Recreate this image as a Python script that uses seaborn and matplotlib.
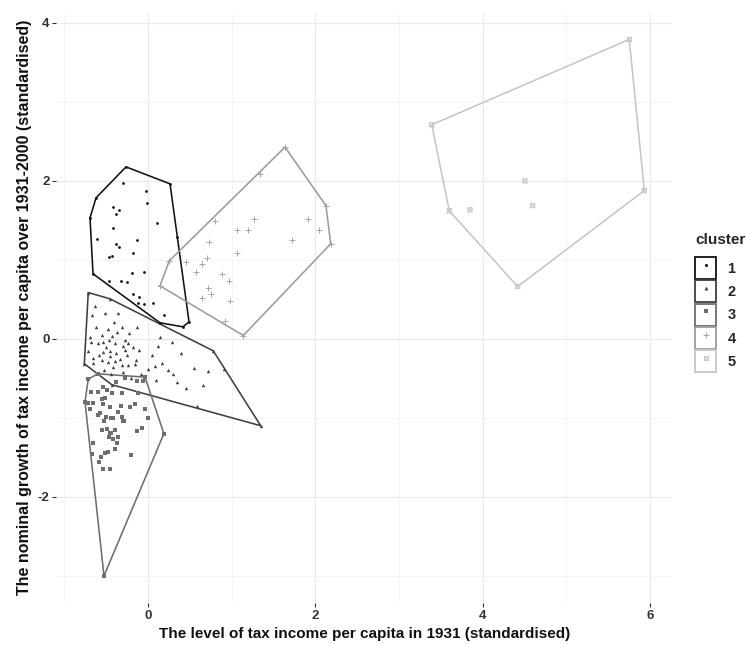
import numpy as np
import pandas as pd
import matplotlib
matplotlib.use("Agg")
import matplotlib.pyplot as plt
import seaborn as sns
from matplotlib.path import Path
from matplotlib.patches import Rectangle
from matplotlib.lines import Line2D
from matplotlib.legend_handler import HandlerTuple

# ---- data: standardised tax income level (x) and growth (y), by cluster ----
cluster_labels = ["1", "2", "3", "4", "5"]

c1_x = [-0.263, -0.621, -0.693, -0.657, 0.143, 0.418, 0.490, 0.263,
        -0.302, -0.027, -0.016, -0.418, -0.346, -0.382, 0.108, -0.418, -0.613,
        -0.135, -0.382, -0.346, -0.183, -0.430, -0.466, -0.048, -0.195, -0.466,
        -0.326, -0.254, -0.179, -0.108, -0.119, -0.048, 0.056, 0.191, 0.343]
c1_y = [2.177, 1.785, 1.532, 0.823, 0.203, 0.152, 0.215, 1.962,
        1.971, 1.873, 1.722, 1.671, 1.633, 1.582, 1.468, 1.405, 1.266,
        1.253, 1.203, 1.165, 1.092, 1.051, 1.038, 0.852, 0.839, 0.738,
        0.738, 0.725, 0.570, 0.535, 0.456, 0.443, 0.459, 0.304, 1.291]

c2_x = [-0.714, -0.454, 0.780, 1.346, -0.434, -0.761,
        -0.633, -0.514, -0.355, -0.673, -0.406, -0.314, -0.128, -0.374, -0.434, -0.223,
        -0.693, -0.685, -0.534, -0.462, -0.295, -0.235, -0.104, -0.713, -0.534, -0.454,
        -0.275, -0.654, -0.553, -0.474, -0.394, -0.314, -0.235, -0.661, -0.143, -0.415,
        0.143, 0.283, 0.123, 0.391, 0.084, 0.164, 0.243, 0.295, 0.550, 0.720,
        0.908, 0.654, 0.582, -0.004,
        -0.60, -0.58, -0.50, -0.45, -0.40, -0.38, -0.33, -0.28, -0.25, -0.18,
        -0.62, -0.55, -0.48, -0.52, -0.44, -0.30, -0.15, -0.08, 0.05, 0.35,
        0.45, 0.10, -0.20]
c2_y = [0.586, 0.506, -0.152, -1.100, -0.580, -0.316,
        0.418, 0.325, 0.325, 0.304, 0.219, 0.156, 0.148, 0.092, 0.038, 0.072,
        0.022, -0.034, -0.034, -0.013, -0.097, -0.054, -0.139, -0.148, -0.161, -0.148,
        -0.139, -0.244, -0.266, -0.287, -0.275, -0.329, -0.329, -0.308, -0.266, -0.358,
        0.022, -0.042, -0.085, -0.181, -0.342, -0.308, -0.392, -0.447, -0.371, -0.401,
        -0.384, -0.586, -0.848, -0.380,
        -0.05, -0.20, -0.10, -0.22, -0.05, -0.18, -0.25, -0.02, -0.20, -0.10,
        0.15, 0.05, 0.12, -0.40, -0.45, -0.42, -0.32, -0.45, -0.20, -0.55,
        -0.62, -0.52, -0.50]

c3_x = [-0.600, -0.036, 0.190, -0.526, -0.753, -0.714,
        -0.135, -0.063, -0.275, -0.382, -0.534, -0.493, -0.681, -0.594, -0.427, -0.307,
        -0.116, -0.514, -0.553, -0.713, -0.654, -0.534, -0.323, -0.215, -0.155, -0.693,
        -0.454, -0.362, -0.573, -0.594, -0.505, -0.442, -0.415, -0.314, -0.036, -0.522,
        -0.283, -0.135, -0.075, -0.553, -0.493, -0.442, -0.394, -0.466, -0.355, -0.654,
        -0.673, -0.514, -0.474, -0.562, -0.582, -0.207, -0.541, -0.454, -0.394, -0.374,
        -0.415, -0.454, 0.004, -0.295]
c3_y = [-0.443, -0.485, -1.200, -3.000, -0.797, -0.510,
        -0.528, -0.528, -0.497, -0.541, -0.604, -0.646, -0.667, -0.667, -0.680, -0.680,
        -0.687, -0.751, -0.763, -0.806, -0.806, -0.823, -0.848, -0.865, -0.823, -0.890,
        -0.865, -0.920, -0.933, -0.962, -0.984, -1.004, -1.004, -0.984, -0.890, -1.038,
        -1.038, -1.161, -1.130, -1.152, -1.143, -1.186, -1.152, -1.244, -1.244, -1.313,
        -1.456, -1.447, -1.427, -1.497, -1.557, -1.472, -1.649, -1.649, -1.392, -1.320,
        -1.270, -1.194, -1.004, -1.038]

c4_x = [0.143, 0.254, 1.637, 2.127, 2.183, 1.139,
        1.338, 0.800, 1.266, 1.067, 1.195, 1.912, 2.043, 1.724, 0.729, 1.060,
        0.708, 0.450, 0.642, 0.573, 0.884, 0.968, 0.720, 0.749, 0.642, 0.980, 0.920]
c4_y = [0.671, 0.987, 2.427, 1.684, 1.203, 0.042,
        2.085, 1.490, 1.515, 1.380, 1.380, 1.523, 1.384, 1.257, 1.232, 1.092,
        1.022, 0.971, 0.946, 0.852, 0.823, 0.734, 0.642, 0.570, 0.513, 0.485, 0.224]

c5_x = [5.750, 5.930, 4.417, 3.600, 3.390, 4.504, 3.847, 4.596]
c5_y = [3.790, 1.877, 0.662, 1.620, 2.710, 2.000, 1.633, 1.687]

x_ticks = [0, 2, 4, 6]
y_ticks = [-2, 0, 2, 4]
x_title = "The level of tax income per capita in 1931 (standardised)"
y_title = "The nominal growth of tax income per capita over 1931-2000 (standardised)"

frames = []
for lab, xs, ys in zip(cluster_labels,
                       [c1_x, c2_x, c3_x, c4_x, c5_x],
                       [c1_y, c2_y, c3_y, c4_y, c5_y]):
    frames.append(pd.DataFrame({"x": xs, "y": ys, "cluster": lab}))
df = pd.concat(frames, ignore_index=True)


def convex_hull(pts):
    """Andrew's monotone chain; returns closed hull vertex array."""
    pts = sorted(set(map(tuple, pts)))
    if len(pts) < 3:
        return np.array(pts + pts[:1])

    def cross(o, a, b):
        return (a[0] - o[0]) * (b[1] - o[1]) - (a[1] - o[1]) * (b[0] - o[0])

    lower, upper = [], []
    for p in pts:
        while len(lower) >= 2 and cross(lower[-2], lower[-1], p) <= 0:
            lower.pop()
        lower.append(p)
    for p in reversed(pts):
        while len(upper) >= 2 and cross(upper[-2], upper[-1], p) <= 0:
            upper.pop()
        upper.append(p)
    hull = lower[:-1] + upper[:-1]
    hull.append(hull[0])
    return np.array(hull)


# square with a cross inside (ggplot shape 7)
box_x = Path([(-1, -1), (1, -1), (1, 1), (-1, 1), (-1, -1),
              (-1, -1), (1, 1), (-1, 1), (1, -1)],
             [Path.MOVETO, Path.LINETO, Path.LINETO, Path.LINETO, Path.CLOSEPOLY,
              Path.MOVETO, Path.LINETO, Path.MOVETO, Path.LINETO])

colors = ["#111111", "#3f3f3f", "#6e6e6e", "#9c9c9c", "#c6c6c6"]
style = {
    "1": dict(marker="o", s=4, linewidth=0),
    "2": dict(marker="^", s=6, linewidth=0),
    "3": dict(marker="s", s=5, linewidth=0),
    "4": dict(marker="+", s=22, linewidth=0.6),
    "5": dict(marker=box_x, s=10, linewidth=0.6, facecolor="none"),
}
legend_ms = {"1": 2.2, "2": 2.8, "3": 2.6, "4": 5.0, "5": 3.0}

sns.set_theme(style="white")
plt.rcParams["font.family"] = ["Liberation Sans", "DejaVu Sans"]
plt.rcParams["axes.unicode_minus"] = False

fig = plt.figure(figsize=(7.46, 6.45), dpi=100)
ax = fig.add_axes([0.0755, 0.0657, 0.8257, 0.9147])

for lab, col in zip(cluster_labels, colors):
    sub = df[df["cluster"] == lab]
    hull = convex_hull(sub[["x", "y"]].to_numpy())
    ax.plot(hull[:, 0], hull[:, 1], color=col, lw=1.15, zorder=2,
            solid_joinstyle="round")
    kw = dict(style[lab])
    if lab != "4":
        kw["edgecolor"] = col
    sns.scatterplot(data=sub, x="x", y="y", color=col, ax=ax, legend=False,
                    zorder=3, **kw)

# limits with 5% padding on each side
xr = df["x"].max() - df["x"].min()
yr = df["y"].max() - df["y"].min()
ax.set_xlim(df["x"].min() - 0.05 * xr, df["x"].max() + 0.05 * xr)
ax.set_ylim(df["y"].min() - 0.05 * yr, df["y"].max() + 0.05 * yr)

ax.set_xticks(x_ticks)
ax.set_yticks(y_ticks)
ax.set_xticks([t + 1 for t in x_ticks[:-1]] + [x_ticks[0] - 1], minor=True)
ax.set_yticks([t + 1 for t in y_ticks[:-1]] + [y_ticks[0] - 1], minor=True)
ax.grid(which="major", color="#ebebeb", lw=1.0)
ax.grid(which="minor", color="#f3f3f3", lw=0.6)
ax.set_axisbelow(True)
for sp in ax.spines.values():
    sp.set_visible(False)
ax.tick_params(which="major", length=3, width=0.8, color="#333333",
               labelsize=9.5, labelcolor="#333333", pad=2, bottom=True, left=True)
ax.tick_params(which="minor", length=0)
for t in ax.get_xticklabels() + ax.get_yticklabels():
    t.set_fontweight("bold")

ax.set_xlabel(x_title, fontsize=11, fontweight="bold", color="#111111", labelpad=4)
ax.set_ylabel(y_title, fontsize=11.5, fontweight="bold", color="#111111", labelpad=4)

handles = []
for lab, col in zip(cluster_labels, colors):
    box = Rectangle((0, 0), 1, 1, facecolor="white", edgecolor=col, lw=1.3)
    mk = style[lab]["marker"]
    mfc = "none" if lab == "5" else col
    pt = Line2D([], [], ls="", marker=mk, color=col, markerfacecolor=mfc,
                markeredgecolor=col, markersize=legend_ms[lab],
                markeredgewidth=0.6 if lab in ("4", "5") else 0)
    handles.append((box, pt))

leg = fig.legend(handles, cluster_labels,
                 handler_map={tuple: HandlerTuple(ndivide=1, pad=0)},
                 title="cluster", loc="upper left", bbox_to_anchor=(0.932, 0.638),
                 frameon=False, handlelength=1.45, handleheight=1.95,
                 handletextpad=0.75, labelspacing=0.08, borderaxespad=0,
                 borderpad=0,
                 prop={"size": 10.5, "weight": "bold"},
                 title_fontproperties={"size": 11, "weight": "bold"})
leg._legend_box.align = "left"
leg._legend_box.sep = 7

fig.savefig("out.png", dpi=100)
